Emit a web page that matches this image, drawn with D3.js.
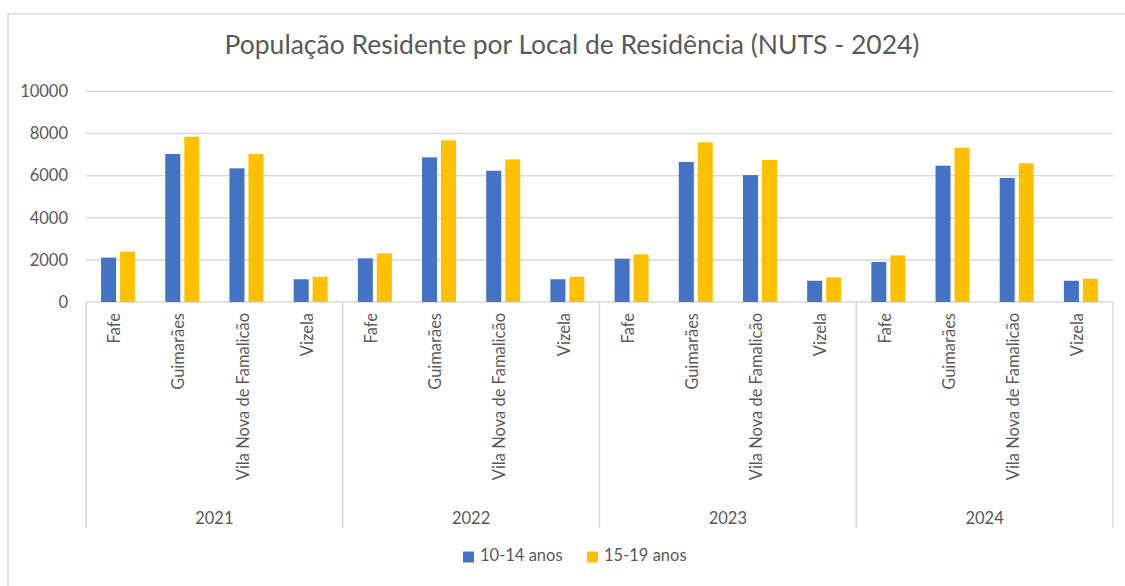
<!DOCTYPE html>
<html>
<head>
<meta charset="utf-8">
<script src="https://cdn.jsdelivr.net/npm/d3@7"></script>
<style>
  body { margin: 0; background: #fff; }
  text { font-family: Lato, "Open Sans", sans-serif; fill: #595959; }
</style>
</head>
<body>
<div class="chart"></div>
<script>
// dados
const anos = ['2021', '2022', '2023', '2024'];
const municipios = ['Fafe', 'Guimarães', 'Vila Nova de Famalicão', 'Vizela'];
const series = ['10-14 anos', '15-19 anos'];
// um valor por ano x município (ordem: 2021 Fafe, Guimarães, VNF, Vizela, 2022 ...)
const valores10_14 = [2110, 7030, 6350, 1080, 2075, 6870, 6235, 1080, 2060, 6650, 6030, 1010, 1900, 6475, 5890, 1010];
const valores15_19 = [2395, 7850, 7030, 1200, 2310, 7680, 6775, 1200, 2265, 7585, 6745, 1170, 2215, 7330, 6590, 1105];
const yTicks = [0, 2000, 4000, 6000, 8000, 10000];

const cores = ['#4472C4', '#FFC000'];
const grelha = '#D9D9D9';
const fonte = '16.5px';

const width = 1125, height = 586;
const margin = {top: 91.5, right: 12, bottom: 284, left: 86};

const svg = d3.select('.chart').append('svg')
  .attr('width', width).attr('height', height);

// moldura do gráfico (sai fora da imagem à direita e em baixo)
svg.append('rect')
  .attr('x', 8).attr('y', 14).attr('width', width).attr('height', height)
  .attr('fill', 'none').attr('stroke', grelha).attr('stroke-width', 1.5);

// tabela com uma linha por barra
const dados = [];
anos.forEach((ano, i) => {
  municipios.forEach((m, j) => {
    const k = i * municipios.length + j;
    dados.push({ano: ano, mun: m, serie: series[0], valor: valores10_14[k]});
    dados.push({ano: ano, mun: m, serie: series[1], valor: valores15_19[k]});
  });
});

const x0 = margin.left, x1 = width - margin.right; // 1113
const y0 = height - margin.bottom;                 // 302

const xAno = d3.scaleBand().domain(anos).range([x0, x1]);
const xMun = d3.scaleBand().domain(municipios).range([0, xAno.bandwidth()]);
const xSerie = d3.scaleBand().domain(series)
  .range([xMun.bandwidth() / 2 - 17, xMun.bandwidth() / 2 + 17])
  .paddingInner(0.21);
const y = d3.scaleLinear().domain([0, 10000]).range([y0, margin.top]);

// linhas de grelha
svg.append('g').selectAll('line').data(yTicks).join('line')
  .attr('x1', x0).attr('x2', x1)
  .attr('y1', d => y(d)).attr('y2', d => y(d))
  .attr('stroke', grelha).attr('stroke-width', 1.5);

// eixo y (só etiquetas)
const yAxis = d3.axisLeft(y).tickValues(yTicks).tickFormat(d3.format('d'))
  .tickSize(0).tickPadding(18);
const yAxisDraw = svg.append('g')
  .attr('transform', `translate(${x0},0)`)
  .call(yAxis);
yAxisDraw.select('.domain').remove();
yAxisDraw.selectAll('text')
  .style('font-size', fonte).attr('fill', '#595959').attr('font-family', null);

// barras
svg.append('g').selectAll('rect').data(dados).join('rect')
  .attr('x', d => xAno(d.ano) + xMun(d.mun) + xSerie(d.serie))
  .attr('y', d => y(d.valor))
  .attr('width', xSerie.bandwidth())
  .attr('height', d => y0 - y(d.valor))
  .attr('fill', d => cores[series.indexOf(d.serie)]);

// separadores verticais entre anos
const seps = anos.map(a => xAno(a)).concat([xAno.range()[1]]);
svg.append('g').selectAll('line').data(seps).join('line')
  .attr('x1', d => d).attr('x2', d => d)
  .attr('y1', y0).attr('y2', 528)
  .attr('stroke', grelha).attr('stroke-width', 1.5);

// etiquetas dos municípios (rodadas)
const catG = svg.append('g');
anos.forEach(ano => {
  catG.append('g').selectAll('text').data(municipios).join('text')
    .attr('transform', d => `translate(${xAno(ano) + xMun(d) + xMun.bandwidth() / 2 - 2},${y0 + 11}) rotate(-90)`)
    .attr('text-anchor', 'end')
    .attr('dominant-baseline', 'middle')
    .style('font-size', fonte)
    .text(d => d);
});

// etiquetas dos anos
svg.append('g').selectAll('text').data(anos).join('text')
  .attr('x', d => xAno(d) + xAno.bandwidth() / 2)
  .attr('y', 520)
  .attr('text-anchor', 'middle')
  .attr('dominant-baseline', 'middle')
  .style('font-size', fonte)
  .text(d => d);

// título
svg.append('text')
  .attr('x', 572).attr('y', 47)
  .attr('text-anchor', 'middle')
  .attr('dominant-baseline', 'middle')
  .style('font-size', '26.5px')
  .text('População Residente por Local de Residência (NUTS - 2024)');

// legenda
const legX = [463, 587];
const leg = svg.append('g').selectAll('g').data(series).join('g')
  .attr('transform', (d, i) => `translate(${legX[i]},557)`);
leg.append('rect')
  .attr('x', 0).attr('y', -5.5).attr('width', 11).attr('height', 11)
  .attr('fill', (d, i) => cores[i]);
leg.append('text')
  .attr('x', 17).attr('y', 0)
  .attr('dominant-baseline', 'middle')
  .style('font-size', fonte)
  .text(d => d);
</script>
</body>
</html>
